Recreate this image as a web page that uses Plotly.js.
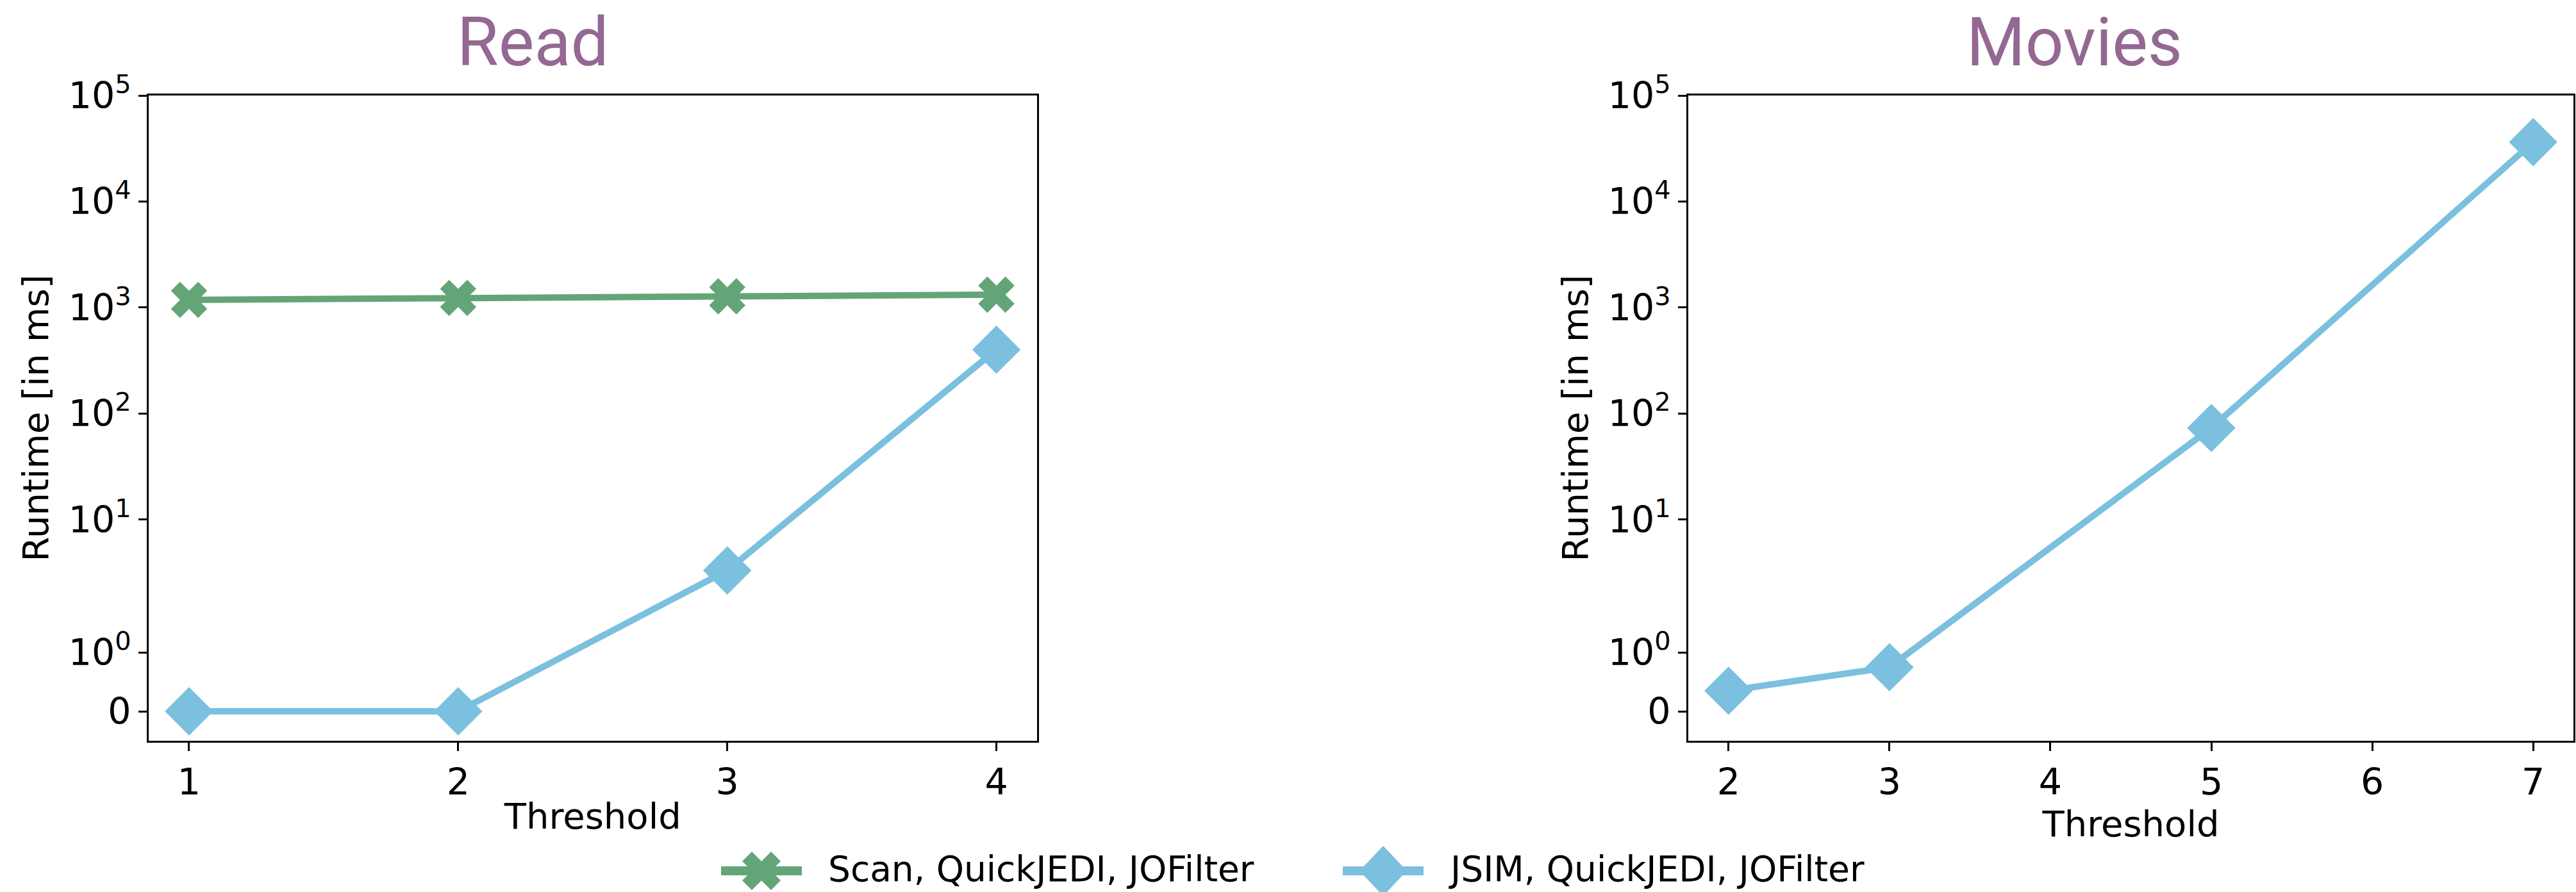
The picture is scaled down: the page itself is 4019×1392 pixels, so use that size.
<!DOCTYPE html>
<html>
<head>
<meta charset="utf-8">
<script src="https://cdn.plot.ly/plotly-3.0.1.min.js"></script>
<style>html,body{margin:0;padding:0;background:#fff;}#chart{width:4019px;height:1392px;}</style>
</head>
<body>
<div id="chart"></div>
<script>
// ---- data ----
const readThreshold = [1, 2, 3, 4];
const readScan = [1180, 1230, 1275, 1320];
const readJsim = [0, 0, 3.3, 400];

const moviesThreshold = [2, 3, 5, 7];
const moviesJsim = [0.35, 0.75, 73, 36300];

const seriesNames = ['Scan, QuickJEDI, JOFilter', 'JSIM, QuickJEDI, JOFilter'];
const panelTitles = ['Read', 'Movies'];
const moviesTicks = [2, 3, 4, 5, 6, 7];
const yTickValues = [0, 1, 10, 100, 1000, 10000, 100000];
const yTickLabels = ['0', '10<sup>0</sup>', '10<sup>1</sup>', '10<sup>2</sup>', '10<sup>3</sup>', '10<sup>4</sup>', '10<sup>5</sup>'];
const yLimits = [-0.5, 100000];

// symmetric-log scale (linthresh 2, linscale 1, base 10), as in matplotlib's default symlog
const LINTHRESH = 2;
const LINSCALE = 1 / (1 - 1 / 10);
function symlog(v) {
  const a = Math.abs(v);
  const s = v < 0 ? -1 : 1;
  if (a <= LINTHRESH) return v * LINSCALE;
  return s * LINTHRESH * (LINSCALE + Math.log10(a / LINTHRESH));
}

const GREEN = '#64a577';
const BLUE = '#7bc0de';
const PURPLE = '#946892';
const FONT = 'DejaVu Sans, sans-serif';

const traces = [
  {
    x: readThreshold, y: readScan.map(symlog), xaxis: 'x', yaxis: 'y',
    type: 'scatter', mode: 'lines+markers', name: seriesNames[0],
    line: {color: GREEN, width: 10},
    marker: {symbol: 'x', size: 50, color: GREEN}
  },
  {
    x: readThreshold, y: readJsim.map(symlog), xaxis: 'x', yaxis: 'y',
    type: 'scatter', mode: 'lines+markers', name: seriesNames[1],
    line: {color: BLUE, width: 10},
    marker: {symbol: 'diamond', size: 58, color: BLUE}
  },
  {
    x: moviesThreshold, y: moviesJsim.map(symlog), xaxis: 'x2', yaxis: 'y2',
    type: 'scatter', mode: 'lines+markers', name: seriesNames[1],
    line: {color: BLUE, width: 10},
    marker: {symbol: 'diamond', size: 58, color: BLUE}
  }
];

const W = 4019, H = 1392;
const yDom = [1 - 1156 / H, 1 - 149 / H];
const yRange = yLimits.map(symlog);

function yAxis(anchor) {
  return {
    anchor: anchor, domain: yDom, range: yRange, type: 'linear',
    tickmode: 'array', tickvals: yTickValues.map(symlog), ticktext: yTickLabels,
    showgrid: false, zeroline: false,
    showline: true, mirror: true, linecolor: '#000', linewidth: 3,
    ticks: 'outside', ticklen: 13, tickwidth: 3, tickcolor: '#000',
    tickfont: {family: FONT, size: 57, color: '#000'},
    title: {text: 'Runtime [in ms]', font: {family: FONT, size: 56, color: '#000'}, standoff: 14},
    automargin: false
  };
}
function xAxis(anchor, dom, range, vals) {
  return {
    anchor: anchor, domain: dom, range: range,
    tickmode: 'array', tickvals: vals,
    showgrid: false, zeroline: false,
    showline: true, mirror: true, linecolor: '#000', linewidth: 3,
    ticks: 'outside', ticklen: 13, tickwidth: 3, tickcolor: '#000',
    tickfont: {family: FONT, size: 57, color: '#000'},
    title: {text: 'Threshold', font: {family: FONT, size: 56, color: '#000'}, standoff: 2},
    automargin: false
  };
}

// legend keys (drawn as layout shapes, pixel-sized around an anchor)
const legY = 1 - 1359 / H;
function xPath(rx) {
  const p = [[0, rx], [rx, 2 * rx], [2 * rx, rx], [rx, 0], [2 * rx, -rx], [rx, -2 * rx], [0, -rx],
             [-rx, -2 * rx], [-2 * rx, -rx], [-rx, 0], [-2 * rx, rx], [-rx, 2 * rx]];
  return 'M' + p.map(q => q[0] + ',' + q[1]).join('L') + 'Z';
}
function diamondPath(hw, hh) {
  return 'M0,' + hh + 'L' + hw + ',0L0,' + (-hh) + 'L' + (-hw) + ',0Z';
}
const legendItems = [
  {name: seriesNames[0], color: GREEN, x0: 1125, x1: 1251, cx: 1188, text: 1290, path: xPath(15)},
  {name: seriesNames[1], color: BLUE, x0: 2095, x1: 2221, cx: 2158, text: 2258, path: diamondPath(37, 39)}
];
const shapes = [];
const annotations = [];
legendItems.forEach(it => {
  shapes.push({type: 'line', xref: 'paper', yref: 'paper', x0: it.x0 / W, x1: it.x1 / W, y0: legY, y1: legY,
               line: {color: it.color, width: 14}});
  shapes.push({type: 'path', xref: 'paper', yref: 'paper', xsizemode: 'pixel', ysizemode: 'pixel',
               xanchor: it.cx / W, yanchor: legY, path: it.path, fillcolor: it.color, line: {width: 0}});
  annotations.push({text: it.name, xref: 'paper', yref: 'paper', x: it.text / W, y: 1 - 1356 / H,
                    xanchor: 'left', yanchor: 'middle', showarrow: false,
                    font: {family: FONT, size: 55, color: '#000'}});
});
annotations.push(
  {text: panelTitles[0], xref: 'paper', yref: 'paper', x: 831 / W, y: 1 - 66 / H,
   xanchor: 'center', yanchor: 'middle', showarrow: false,
   font: {family: 'Roboto, sans-serif', size: 105, color: PURPLE}},
  {text: panelTitles[1], xref: 'paper', yref: 'paper', x: 3236 / W, y: 1 - 66 / H,
   xanchor: 'center', yanchor: 'middle', showarrow: false,
   font: {family: 'Roboto, sans-serif', size: 105, color: PURPLE}}
);

const layout = {
  width: W, height: H,
  margin: {l: 0, r: 0, t: 0, b: 0},
  paper_bgcolor: '#fff', plot_bgcolor: '#fff',
  showlegend: false,
  xaxis: xAxis('y', [232 / W, 1617.5 / W], [0.85, 4.15], readThreshold),
  yaxis: yAxis('x'),
  xaxis2: xAxis('y2', [2634 / W, 4015 / W], [1.75, 7.25], moviesTicks),
  yaxis2: yAxis('x2'),
  shapes: shapes,
  annotations: annotations
};

Plotly.newPlot('chart', traces, layout, {displayModeBar: false, staticPlot: true});
</script>
</body>
</html>
